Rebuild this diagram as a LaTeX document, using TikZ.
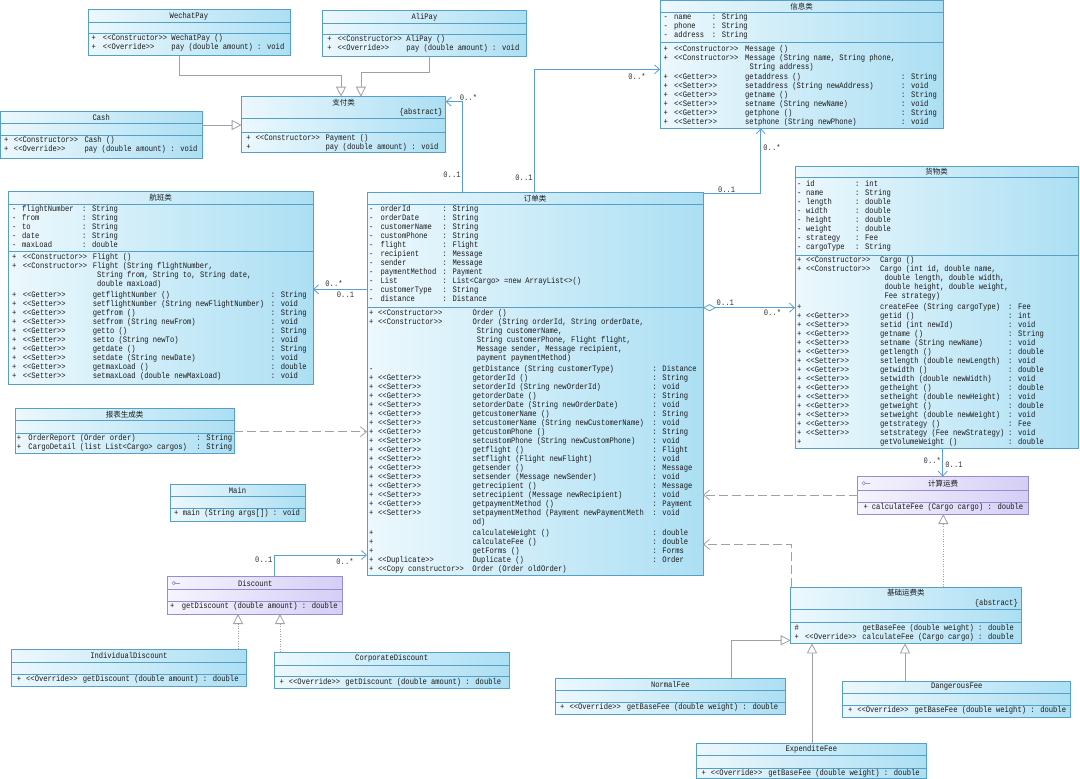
\documentclass[tikz,border=0pt]{standalone}
\usepackage{fontspec}
\newfontfamily\umlfont{Liberation Mono}[FakeStretch=0.85]
\newfontfamily\cjkfont{Noto Sans CJK SC}
\usetikzlibrary{arrows.meta}
\definecolor{clsline}{RGB}{86,160,200}
\definecolor{clsA}{RGB}{236,248,253}
\definecolor{clsB}{RGB}{172,223,243}
\definecolor{ifcline}{RGB}{150,140,210}
\definecolor{ifcA}{RGB}{246,244,253}
\definecolor{ifcB}{RGB}{212,206,245}
\definecolor{assoccol}{RGB}{90,160,215}
\definecolor{gencol}{RGB}{160,160,172}
\setlength\tabcolsep{0pt}
\newcommand\uml{\umlfont\fontsize{8.4}{9}\selectfont}
\newcommand\st[1]{<{}<#1>{}>}
\newcommand\compsep[3][clsline]{\draw[#1, line width=0.6pt] ([yshift=-#3pt]#2.north west) -- ([yshift=-#3pt]#2.north east);}
\tikzset{
  cls/.style={draw=clsline, line width=0.8pt, left color=clsA, right color=clsB, anchor=north west, inner sep=0pt, outer sep=0pt},
  ifc/.style={cls, draw=ifcline, left color=ifcA, right color=ifcB},
  txt/.style={anchor=north west, inner sep=0pt, text=black!90},
  ttl/.style={inner sep=0pt, text=black!90},
  cttl/.style={inner sep=0pt, text=black!90, font=\cjkfont\fontsize{7.5}{9}\selectfont},
  mult/.style={inner sep=0pt, text=black!80},
  assoc/.style={draw=assoccol, line width=0.8pt, -{Straight Barb[length=5pt,width=9pt]}},
  aggr/.style={draw=assoccol, line width=0.8pt, {Diamond[open,fill=white,length=13pt,width=7pt]}-{Straight Barb[length=5pt,width=9pt]}},
  gen/.style={draw=gencol, line width=0.8pt, -{Triangle[open,fill=white,length=10pt,width=10pt]}},
  real/.style={gen, dash pattern=on 1pt off 1.5pt},
  dep/.style={draw=gencol, line width=0.8pt, dash pattern=on 9pt off 4pt, -{Straight Barb[length=6pt,width=10pt]}},
}
\begin{document}
\begin{tikzpicture}[x=1pt, y=-1pt, font=\uml]
\fill[white] (0,0) rectangle (1080,779);
\useasboundingbox (0,0) rectangle (1080,779);

% payment classes
\node[cls, minimum width=202, minimum height=46.4] (wechat) at (88,9.3) {};
\compsep{wechat}{13.4} \compsep{wechat}{24}
\node[ttl] (wechatT) at ([yshift=-6.7pt]wechat.north) {WechatPay};
\node[txt] (wechatO) at ([shift={(3.5pt,-25pt)}]wechat.north west) {\begin{tabular}{@{}p{11.3pt}p{68.5pt}l@{}}
+ & \st{Constructor} & WechatPay ()\\
+ & \st{Override} & pay (double amount) : void
\end{tabular}};

\node[cls, minimum width=203.5, minimum height=46.4] (ali) at (322.7,10.3) {};
\compsep{ali}{13.4} \compsep{ali}{24}
\node[ttl] (aliT) at ([yshift=-6.7pt]ali.north) {AliPay};
\node[txt] (aliO) at ([shift={(4.4pt,-25pt)}]ali.north west) {\begin{tabular}{@{}p{10.4pt}p{68.8pt}l@{}}
+ & \st{Constructor} & AliPay ()\\
+ & \st{Override} & pay (double amount) : void
\end{tabular}};

\node[cls, minimum width=201.5, minimum height=47.3] (cash) at (0.5,111) {};
\compsep{cash}{12.3} \compsep{cash}{24}
\node[ttl] (cashT) at ([yshift=-6.2pt]cash.north) {Cash};
\node[txt] (cashO) at ([shift={(3.5pt,-25pt)}]cash.north west) {\begin{tabular}{@{}p{9.8pt}p{70.6pt}l@{}}
+ & \st{Constructor} & Cash ()\\
+ & \st{Override} & pay (double amount) : void
\end{tabular}};

\node[cls, minimum width=204, minimum height=56] (pay) at (241.7,96.7) {};
\compsep{pay}{21.5} \compsep{pay}{36}
\node[cttl] (payT) at ([yshift=-5.5pt]pay.north) {支付类};
\node[ttl, anchor=east] (payA) at ([shift={(-3pt,-16pt)}]pay.north east) {\{abstract\}};
\node[txt] (payO) at ([shift={(4.5pt,-37pt)}]pay.north west) {\begin{tabular}{@{}p{9.3pt}p{69.9pt}l@{}}
+ & \st{Constructor} & Payment ()\\
+ & & pay (double amount) : void
\end{tabular}};

% message
\node[cls, minimum width=283, minimum height=127.8] (msg) at (660,0.5) {};
\compsep{msg}{11.8} \compsep{msg}{41.8}
\node[cttl] (msgT) at ([yshift=-5.9pt]msg.north) {信息类};
\node[txt] (msgA) at ([shift={(3.3pt,-13pt)}]msg.north west) {\begin{tabular}{@{}p{10.7pt}p{37.7pt}l@{}}
- & name & : String\\
- & phone & : String\\
- & address & : String
\end{tabular}};
\node[txt] (msgO) at ([shift={(3.3pt,-44pt)}]msg.north west) {\begin{tabular}{@{}p{10.7pt}p{71pt}p{156pt}l@{}}
+ & \st{Constructor} & Message () & \\
+ & \st{Constructor} & Message (String name, String phone, & \\
  & & \multicolumn{2}{@{\hspace{4.3pt}}l@{}}{String address)}\\[1.5pt]
+ & \st{Getter} & getaddress () & : String\\
+ & \st{Setter} & setaddress (String newAddress) & : void\\
+ & \st{Getter} & getname () & : String\\
+ & \st{Setter} & setname (String newName) & : void\\
+ & \st{Getter} & getphone () & : String\\
+ & \st{Setter} & setphone (String newPhone) & : void
\end{tabular}};

% flight
\node[cls, minimum width=305, minimum height=192.3] (flight) at (8,191.7) {};
\compsep{flight}{12.6} \compsep{flight}{60}
\node[cttl] (flightT) at ([yshift=-6.3pt]flight.north) {航班类};
\node[txt] (flightA) at ([shift={(4pt,-13.6pt)}]flight.north west) {\begin{tabular}{@{}p{10pt}p{60pt}l@{}}
- & flightNumber & : String\\
- & from & : String\\
- & to & : String\\
- & date & : String\\
- & maxLoad & : double
\end{tabular}};
\node[txt] (flightO) at ([shift={(4pt,-61pt)}]flight.north west) {\begin{tabular}{@{}p{10.7pt}p{70pt}p{178pt}l@{}}
+ & \st{Constructor} & Flight () & \\
+ & \st{Constructor} & Flight (String flightNumber, & \\
  & & \multicolumn{2}{@{\hspace{4.3pt}}l@{}}{String from, String to, String date,}\\
  & & \multicolumn{2}{@{\hspace{4.3pt}}l@{}}{double maxLoad)}\\[2pt]
+ & \st{Getter} & getflightNumber () & : String\\
+ & \st{Setter} & setflightNumber (String newFlightNumber) & : void\\
+ & \st{Getter} & getfrom () & : String\\
+ & \st{Setter} & setfrom (String newFrom) & : void\\
+ & \st{Getter} & getto () & : String\\
+ & \st{Setter} & setto (String newTo) & : void\\
+ & \st{Getter} & getdate () & : String\\
+ & \st{Setter} & setdate (String newDate) & : void\\
+ & \st{Getter} & getmaxLoad () & : double\\
+ & \st{Setter} & setmaxLoad (double newMaxLoad) & : void
\end{tabular}};

% order
\node[cls, minimum width=336, minimum height=383.2] (order) at (367,192.3) {};
\compsep{order}{12} \compsep{order}{115.4}
\node[cttl] (orderT) at ([yshift=-6pt]order.north) {订单类};
\node[txt] (orderA) at ([shift={(2pt,-13pt)}]order.north west) {\begin{tabular}{@{}p{11.4pt}p{62pt}l@{}}
- & orderId & : String\\
- & orderDate & : String\\
- & customerName & : String\\
- & customPhone & : String\\
- & flight & : Flight\\
- & recipient & : Message\\
- & sender & : Message\\
- & paymentMethod & : Payment\\
- & List & : List<Cargo> =new ArrayList<>()\\
- & customerType & : String\\
- & distance & : Distance
\end{tabular}};
\node[txt] (orderO) at ([shift={(2pt,-116.4pt)}]order.north west) {\begin{tabular}{@{}p{9pt}p{94.3pt}p{180pt}l@{}}
+ & \st{Constructor} & Order () & \\
+ & \st{Constructor} & Order (String orderId, String orderDate, & \\
  & & \multicolumn{2}{@{\hspace{4.3pt}}l@{}}{String customerName,}\\
  & & \multicolumn{2}{@{\hspace{4.3pt}}l@{}}{String customerPhone, Flight flight,}\\
  & & \multicolumn{2}{@{\hspace{4.3pt}}l@{}}{Message sender, Message recipient,}\\
  & & \multicolumn{2}{@{\hspace{4.3pt}}l@{}}{payment paymentMethod)}\\[2pt]
- & & getDistance (String customerType) & : Distance\\
+ & \st{Getter} & getorderId () & : String\\
+ & \st{Setter} & setorderId (String newOrderId) & : void\\
+ & \st{Getter} & getorderDate () & : String\\
+ & \st{Setter} & setorderDate (String newOrderDate) & : void\\
+ & \st{Getter} & getcustomerName () & : String\\
+ & \st{Setter} & setcustomerName (String newCustomerName) & : void\\
+ & \st{Getter} & getcustomPhone () & : String\\
+ & \st{Setter} & setcustomPhone (String newCustomPhone) & : void\\
+ & \st{Getter} & getflight () & : Flight\\
+ & \st{Setter} & setflight (Flight newFlight) & : void\\
+ & \st{Getter} & getsender () & : Message\\
+ & \st{Setter} & setsender (Message newSender) & : void\\
+ & \st{Getter} & getrecipient () & : Message\\
+ & \st{Setter} & setrecipient (Message newRecipient) & : void\\
+ & \st{Getter} & getpaymentMethod () & : Payment\\
+ & \st{Setter} & setpaymentMethod (Payment newPaymentMeth & : void\\
  & & \multicolumn{2}{@{}l@{}}{od)}\\[2pt]
+ & & calculateWeight () & : double\\
+ & & calculateFee () & : double\\
+ & & getForms () & : Forms\\
+ & \st{Duplicate} & Duplicate () & : Order\\
+ & \st{Copy constructor} & Order (Order oldOrder) &
\end{tabular}};

% cargo
\node[cls, minimum width=283, minimum height=282.3] (cargo) at (795,166) {};
\compsep{cargo}{11.3} \compsep{cargo}{89}
\node[cttl] (cargoT) at ([yshift=-5.6pt]cargo.north) {货物类};
\node[txt] (cargoA) at ([shift={(2pt,-14pt)}]cargo.north west) {\begin{tabular}{@{}p{9pt}p{49pt}l@{}}
- & id & : int\\
- & name & : String\\
- & length & : double\\
- & width & : double\\
- & height & : double\\
- & weight & : double\\
- & strategy & : Fee\\
- & cargoType & : String
\end{tabular}};
\node[txt] (cargoO) at ([shift={(2pt,-90pt)}]cargo.north west) {\begin{tabular}{@{}p{9pt}p{74pt}p{128pt}l@{}}
+ & \st{Constructor} & Cargo () & \\
+ & \st{Constructor} & Cargo (int id, double name, & \\
  & & \multicolumn{2}{@{\hspace{4.3pt}}l@{}}{double length, double width,}\\
  & & \multicolumn{2}{@{\hspace{4.3pt}}l@{}}{double height, double weight,}\\
  & & \multicolumn{2}{@{\hspace{4.3pt}}l@{}}{Fee strategy)}\\[1.7pt]
+ & & createFee (String cargoType) & : Fee\\
+ & \st{Getter} & getid () & : int\\
+ & \st{Setter} & setid (int newId) & : void\\
+ & \st{Getter} & getname () & : String\\
+ & \st{Setter} & setname (String newName) & : void\\
+ & \st{Getter} & getlength () & : double\\
+ & \st{Setter} & setlength (double newLength) & : void\\
+ & \st{Getter} & getwidth () & : double\\
+ & \st{Setter} & setwidth (double newWidth) & : void\\
+ & \st{Getter} & getheight () & : double\\
+ & \st{Setter} & setheight (double newHeight) & : void\\
+ & \st{Getter} & getweight () & : double\\
+ & \st{Setter} & setweight (double newWeight) & : void\\
+ & \st{Getter} & getstrategy () & : Fee\\
+ & \st{Setter} & setstrategy (Fee newStrategy) & : void\\
+ & & getVolumeWeight () & : double
\end{tabular}};

% report, main
\node[cls, minimum width=219.3, minimum height=45] (report) at (15,408.3) {};
\compsep{report}{12.4} \compsep{report}{25}
\node[cttl] (reportT) at ([yshift=-6.2pt]report.north) {报表生成类};
\node[txt] (reportO) at ([shift={(1.7pt,-26pt)}]report.north west) {\begin{tabular}{@{}p{11.6pt}p{168pt}l@{}}
+ & OrderReport (Order order) & : String\\
+ & CargoDetail (list List<Cargo> cargos) & : String
\end{tabular}};

\node[cls, minimum width=135, minimum height=37] (main) at (170,484) {};
\compsep{main}{12.7} \compsep{main}{24.3}
\node[ttl] (mainT) at ([yshift=-6.4pt]main.north) {Main};
\node[txt] (mainO) at ([shift={(4pt,-25.3pt)}]main.north west) {\begin{tabular}{@{}p{8.7pt}l@{}}
+ & main (String args[]) : void
\end{tabular}};

% discount
\node[ifc, minimum width=175, minimum height=37.3] (discount) at (167.7,576.7) {};
\compsep[ifcline]{discount}{12.6} \compsep[ifcline]{discount}{24.3}
\draw[ifcline, line width=0.6pt] ([shift={(6pt,-6.3pt)}]discount.north west) circle[radius=1.7pt];
\draw[ifcline, line width=0.6pt] ([shift={(7.7pt,-6.3pt)}]discount.north west) -- ++(5,0);
\node[ttl] (discountT) at ([yshift=-6.3pt]discount.north) {Discount};
\node[txt] (discountO) at ([shift={(2.3pt,-25.3pt)}]discount.north west) {\begin{tabular}{@{}p{11.7pt}l@{}}
+ & getDiscount (double amount) : double
\end{tabular}};

\node[cls, minimum width=234.3, minimum height=36.7] (individual) at (11.7,649.3) {};
\compsep{individual}{13.4} \compsep{individual}{25}
\node[ttl] (individualT) at ([yshift=-6.7pt]individual.north) {IndividualDiscount};
\node[txt] (individualO) at ([shift={(5pt,-26pt)}]individual.north west) {\begin{tabular}{@{}p{9.3pt}p{56.7pt}l@{}}
+ & \st{Override} & getDiscount (double amount) : double
\end{tabular}};

\node[cls, minimum width=234.7, minimum height=36.4] (corporate) at (274.3,652.3) {};
\compsep{corporate}{12.7} \compsep{corporate}{24.4}
\node[ttl] (corporateT) at ([yshift=-6.4pt]corporate.north) {CorporateDiscount};
\node[txt] (corporateO) at ([shift={(5pt,-25.4pt)}]corporate.north west) {\begin{tabular}{@{}p{9.3pt}p{56.7pt}l@{}}
+ & \st{Override} & getDiscount (double amount) : double
\end{tabular}};

% fee strategy
\node[ifc, minimum width=170.6, minimum height=37.3] (fee) at (857.7,476.7) {};
\compsep[ifcline]{fee}{13.3} \compsep[ifcline]{fee}{25.6}
\draw[ifcline, line width=0.6pt] ([shift={(6pt,-6.6pt)}]fee.north west) circle[radius=1.7pt];
\draw[ifcline, line width=0.6pt] ([shift={(7.7pt,-6.6pt)}]fee.north west) -- ++(5,0);
\node[cttl] (feeT) at ([yshift=-6.6pt]fee.north) {计算运费};
\node[txt] (feeO) at ([shift={(5.6pt,-26.6pt)}]fee.north west) {\begin{tabular}{@{}p{8.4pt}l@{}}
+ & calculateFee (Cargo cargo) : double
\end{tabular}};

\node[cls, minimum width=230.3, minimum height=56] (basefee) at (790.7,587.3) {};
\compsep{basefee}{22} \compsep{basefee}{35.4}
\node[cttl] (basefeeT) at ([yshift=-5.4pt]basefee.north) {基础运费类};
\node[ttl, anchor=east] (basefeeA) at ([shift={(-3pt,-16pt)}]basefee.north east) {\{abstract\}};
\node[txt] (basefeeO) at ([shift={(3.6pt,-36.4pt)}]basefee.north west) {\begin{tabular}{@{}p{10.7pt}p{57.3pt}l@{}}
\# & & getBaseFee (double weight) : double\\
+ & \st{Override} & calculateFee (Cargo cargo) : double
\end{tabular}};

\node[cls, minimum width=230.6, minimum height=36.4] (normal) at (555,678) {};
\compsep{normal}{12.7} \compsep{normal}{24}
\node[ttl] (normalT) at ([yshift=-6.4pt]normal.north) {NormalFee};
\node[txt] (normalO) at ([shift={(5pt,-25pt)}]normal.north west) {\begin{tabular}{@{}p{9.3pt}p{57.4pt}l@{}}
+ & \st{Override} & getBaseFee (double weight) : double
\end{tabular}};

\node[cls, minimum width=227.8, minimum height=36.8] (dangerous) at (842.8,681) {};
\compsep{dangerous}{11.8} \compsep{dangerous}{24.3}
\node[ttl] (dangerousT) at ([yshift=-5.9pt]dangerous.north) {DangerousFee};
\node[txt] (dangerousO) at ([shift={(5pt,-25.3pt)}]dangerous.north west) {\begin{tabular}{@{}p{9.3pt}p{57.4pt}l@{}}
+ & \st{Override} & getBaseFee (double weight) : double
\end{tabular}};

\node[cls, minimum width=229.9, minimum height=35.4] (expendite) at (696.4,743.1) {};
\compsep{expendite}{12.5} \compsep{expendite}{24.7}
\node[ttl] (expenditeT) at ([yshift=-6.2pt]expendite.north) {ExpenditeFee};
\node[txt] (expenditeO) at ([shift={(5pt,-25.7pt)}]expendite.north west) {\begin{tabular}{@{}p{9.3pt}p{57.4pt}l@{}}
+ & \st{Override} & getBaseFee (double weight) : double
\end{tabular}};

% generalisations
\coordinate (wechatS) at ([xshift=91.4pt]wechat.south west);
\draw[gen] (wechatS) -- ++(0,19.3) -| ([xshift=99.3pt]pay.north west);
\coordinate (aliS) at ([xshift=106.7pt]ali.south west);
\draw[gen] (aliS) -- ++(0,16) -| ([xshift=119.2pt]pay.north west);
\coordinate (cashE) at ([yshift=-14pt]cash.north east);
\draw[gen] (cashE) -- (cashE -| pay.west);
\coordinate (normalN) at ([xshift=176.5pt]normal.north west);
\draw[gen] (normalN) |- ([yshift=3pt]basefee.south west);
\coordinate (expN) at ([xshift=115.6pt]expendite.north west);
\draw[gen] (expN) -- (expN |- basefee.south);
\coordinate (dangN) at ([xshift=62.2pt]dangerous.north west);
\draw[gen] (dangN) -- (dangN |- basefee.south);

% realisations
\coordinate (baseF) at ([xshift=152.6pt]basefee.north west);
\draw[real] (baseF) -- (baseF |- fee.south);
\coordinate (indivN) at ([xshift=226.3pt]individual.north west);
\draw[real] (indivN) -- (indivN |- discount.south);
\coordinate (corpN) at ([xshift=5.7pt]corporate.north west);
\draw[real] (corpN) -- (corpN |- discount.south);

% associations
\coordinate (orderP) at ([xshift=95.7pt]order.north west);
\draw[assoc] (orderP) |- ([yshift=-5pt]pay.north east);
\coordinate (orderM) at ([xshift=167.7pt]order.north west);
\draw[assoc] (orderM) |- ([yshift=-68.8pt]msg.north west);
\coordinate (orderN) at ([yshift=-1.5pt]order.north east);
\draw[assoc] (orderN) -| ([xshift=100.7pt]msg.south west);
\coordinate (orderF) at ([yshift=-97pt]order.north west);
\draw[assoc] (orderF) -- (orderF -| flight.east);
\coordinate (orderC) at ([yshift=-115.4pt]order.north east);
\draw[aggr] (orderC) -- (orderC -| cargo.west);
\coordinate (discN) at ([xshift=106.6pt]discount.north west);
\draw[assoc] (discN) |- ([yshift=-362.7pt]order.north west);
\coordinate (cargoS) at ([xshift=147.7pt]cargo.south west);
\draw[assoc] (cargoS) -- (cargoS |- fee.north);

% dependencies
\coordinate (reportE) at ([yshift=-23.4pt]report.north east);
\draw[dep] (reportE) -- (reportE -| order.west);
\coordinate (feeW) at ([yshift=-18.3pt]fee.north west);
\draw[dep] (feeW) -- (feeW -| order.east);
\coordinate (baseN) at ([xshift=0.5pt]basefee.north west);
\draw[dep] (baseN) |- ([yshift=-352pt]order.north east);

% multiplicities
\node[mult] (m1) at (468.5,97.3) {0..*};
\node[mult] (m2) at (452,175) {0..1};
\node[mult] (m3) at (524,177.7) {0..1};
\node[mult] (m4) at (637,76.7) {0..*};
\node[mult] (m5) at (726.7,190) {0..1};
\node[mult] (m6) at (772,147.7) {0..*};
\node[mult] (m7) at (334,283.5) {0..*};
\node[mult] (m8) at (345.5,294.5) {0..1};
\node[mult] (m9) at (725.3,302.3) {0..1};
\node[mult] (m10) at (772.5,312.3) {0..*};
\node[mult] (m11) at (263.8,560) {0..1};
\node[mult] (m12) at (345,561.7) {0..*};
\node[mult] (m13) at (932.3,460) {0..*};
\node[mult] (m14) at (954,465) {0..1};
\end{tikzpicture}
\end{document}
